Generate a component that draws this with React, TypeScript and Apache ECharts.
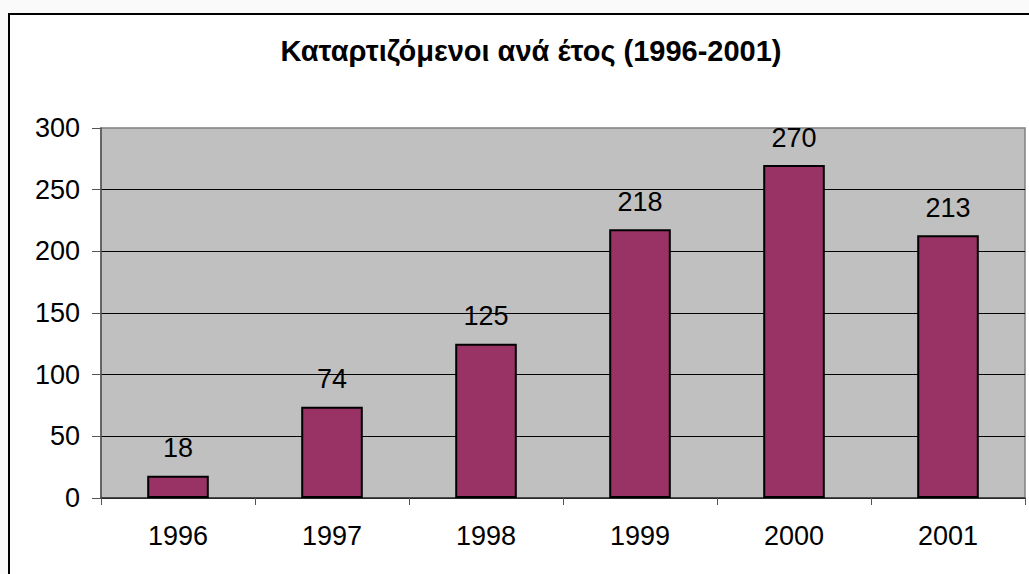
import React, { useEffect, useRef } from "react";
import * as echarts from "echarts";

const title = "Καταρτιζόμενοι ανά έτος (1996-2001)";
const years = ["1996", "1997", "1998", "1999", "2000", "2001"];
const trainees = [18, 74, 125, 218, 270, 213];

const FONT = "'Liberation Sans', Arial, sans-serif";

export default function App() {
  const ref = useRef<HTMLDivElement>(null);

  useEffect(() => {
    if (!ref.current) return;
    const chart = echarts.init(ref.current, undefined, { renderer: "svg" });
    chart.setOption({
      animation: false,
      backgroundColor: "transparent",
      title: {
        text: title,
        left: 526,
        top: 31,
        textAlign: "center",
        textStyle: {
          fontFamily: FONT,
          fontSize: 29,
          fontWeight: "bold",
          color: "#000",
        },
      },
      grid: {
        left: 101,
        right: 4,
        top: 128,
        bottom: 76,
        show: true,
        backgroundColor: "#C0C0C0",
        borderColor: "#808080",
        borderWidth: 1.5,
        containLabel: false,
      },
      xAxis: {
        type: "category",
        data: years,
        boundaryGap: true,
        axisLine: { show: true, lineStyle: { color: "#333", width: 1.5 } },
        axisTick: {
          show: true,
          inside: false,
          length: 7,
          alignWithLabel: false,
          lineStyle: { color: "#555", width: 1 },
        },
        axisLabel: {
          fontFamily: FONT,
          fontSize: 27,
          color: "#000",
          margin: 24,
        },
        splitLine: { show: false },
      },
      yAxis: {
        type: "value",
        min: 0,
        max: 300,
        interval: 50,
        axisLine: { show: true, lineStyle: { color: "#555", width: 1.5 } },
        axisTick: {
          show: true,
          inside: false,
          length: 9,
          lineStyle: { color: "#555", width: 1 },
        },
        axisLabel: {
          fontFamily: FONT,
          fontSize: 27,
          color: "#000",
          margin: 21,
        },
        splitLine: {
          show: true,
          showMaxLine: false,
          lineStyle: { color: "#000", width: 1 },
        },
      },
      series: [
        {
          type: "bar",
          data: trainees,
          barWidth: "40%",
          itemStyle: {
            color: "#993366",
            borderColor: "#000",
            borderWidth: 2,
          },
          label: {
            show: true,
            position: "top",
            distance: 14,
            fontFamily: FONT,
            fontSize: 27,
            color: "#000",
          },
        },
      ],
    });
    return () => chart.dispose();
  }, []);

  return (
    <div
      style={{
        position: "fixed",
        left: 0,
        top: 0,
        width: 1029,
        height: 574,
        overflow: "hidden",
        background: "#FAFAFA",
      }}
    >
      <div
        style={{
          position: "absolute",
          left: 8,
          top: 13,
          width: 1100,
          height: 700,
          border: "2px solid #000",
          background: "#FFFFFF",
        }}
      />
      <div
        ref={ref}
        style={{ position: "absolute", left: 0, top: 0, width: 1029, height: 574 }}
      />
    </div>
  );
}
